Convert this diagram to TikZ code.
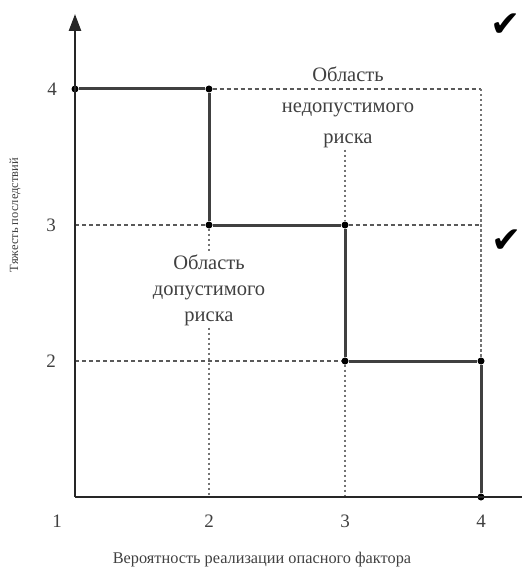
\documentclass[tikz,border=0pt]{standalone}
\usepackage{fontspec}
\setmainfont{Liberation Serif}
\newfontfamily\symfont{DejaVu Sans}
\usetikzlibrary{arrows.meta}
\begin{document}
\begin{tikzpicture}[x=1pt,y=-1pt,
  axisline/.style={line width=2.5pt,black!85},
  stepline/.style={line width=3pt,black!75},
  hdash/.style={line width=1.5pt,black!65,dash pattern=on 4pt off 3pt},
  vdash/.style={line width=1.4pt,black!55,dash pattern=on 2.5pt off 2.5pt},
  dotc/.style={circle,fill=black,inner sep=0pt,minimum size=7pt},
  tick/.style={font=\fontsize{19}{21}\selectfont,text=black!75},
  area/.style={align=center,text=black!75,inner sep=2pt},
  chk/.style={font=\symfont\fontsize{36}{36}\selectfont}]
\useasboundingbox (0,0) rectangle (522,569);
% coordinates
\coordinate (O) at (75,497);
\coordinate (ytop) at (75,14);
\coordinate (xend) at (522,497);
\coordinate (a44) at (481,89);
\coordinate (a13) at (75,225);
\coordinate (a43) at (481,225);
\coordinate (a12) at (75,361);
\coordinate (a23b) at (209,497);
\coordinate (a33b) at (345,497);
% dots
\node[dotc] (p1) at (75,89) {};
\node[dotc] (p2) at (209,89) {};
\node[dotc] (p3) at (209,225) {};
\node[dotc] (p4) at (345,225) {};
\node[dotc] (p5) at (345,361) {};
\node[dotc] (p6) at (481,361) {};
\node[dotc] (p7) at (481,497) {};
% area labels
\node[area,font=\fontsize{20.5}{31}\selectfont] (up) at (348,107) {Область\\недопустимого\\риска};
\node[area,font=\fontsize{20.5}{26}\selectfont] (low) at (209,290) {Область\\допустимого\\риска};
% dashed grid
\draw[hdash] (p2) -- (a44);
\draw[vdash] (a44) -- (p6);
\draw[hdash] (a13) -- (p3);
\draw[hdash] (p4) -- (a43);
\draw[hdash] (a12) -- (p5);
\draw[vdash] (p3) -- (low.north);
\draw[vdash] (low.south) -- (a23b);
\draw[vdash] (up.south -| p4) -- (p4);
\draw[vdash] (p5) -- (a33b);
% axes
\draw[axisline] (O) -- (xend);
\draw[axisline,-{Triangle[length=17pt,width=12pt]}] (O) -- (ytop);
% step line
\draw[stepline] (p1) -- (p2) -- (p3) -- (p4) -- (p5) -- (p6) -- (p7);
% ticks
\node[tick] (x1) at (57,521) {1};
\node[tick] (x2) at (209,521) {2};
\node[tick] (x3) at (345,521) {3};
\node[tick] (x4) at (481,521) {4};
\node[tick] (y4) at (52,89) {4};
\node[tick] (y3) at (51,225) {3};
\node[tick] (y2) at (51,361) {2};
% axis titles
\node[font=\fontsize{16.3}{18}\selectfont,text=black!75] (xt) at (262,560) {Вероятность реализации опасного фактора};
\node[font=\fontsize{12.5}{14}\selectfont,text=black!75,rotate=90] (yt) at (15,215) {Тяжесть последствий};
% checks
\node[chk] (c1) at (506,25) {✔};
\node[chk] (c2) at (507,241) {✔};
\end{tikzpicture}
\end{document}
